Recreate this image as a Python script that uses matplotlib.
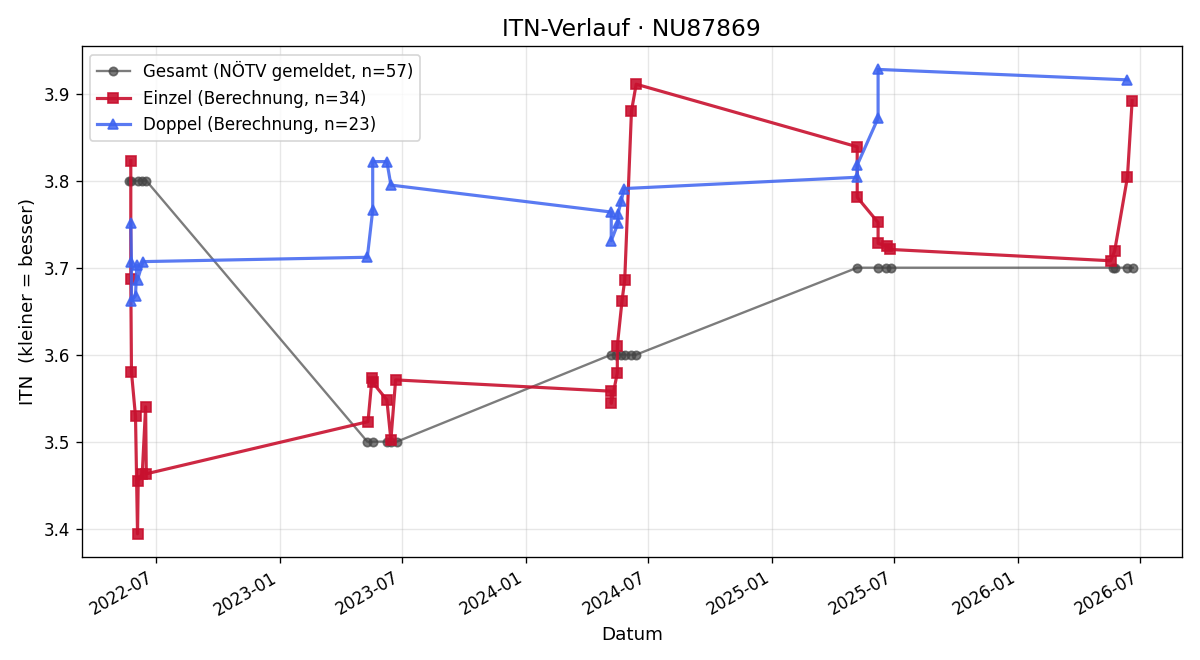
import matplotlib
matplotlib.use("Agg")
import matplotlib.pyplot as plt
import matplotlib.dates as mdates
import pandas as pd

einzel_dates = [
    "2022-05-25", "2022-05-25", "2022-05-26", "2022-06-01", "2022-06-04",
    "2022-06-05", "2022-06-11", "2022-06-16", "2022-06-17",
    "2023-05-12", "2023-05-18", "2023-05-19", "2023-06-09", "2023-06-15", "2023-06-22",
    "2024-05-07", "2024-05-07", "2024-05-16", "2024-05-16", "2024-05-23",
    "2024-05-27", "2024-06-06", "2024-06-13",
    "2025-05-07", "2025-05-07", "2025-06-07", "2025-06-07", "2025-06-20", "2025-06-25",
    "2026-05-18", "2026-05-24", "2026-06-12", "2026-06-19",
]
einzel_itn = [
    3.823, 3.687, 3.580, 3.529, 3.394,
    3.455, 3.463, 3.540, 3.463,
    3.523, 3.573, 3.568, 3.548, 3.502, 3.571,
    3.558, 3.544, 3.579, 3.610, 3.662,
    3.686, 3.880, 3.911,
    3.839, 3.781, 3.752, 3.728, 3.725, 3.721,
    3.708, 3.719, 3.804, 3.892,
]

doppel_dates = [
    "2022-05-25", "2022-05-26", "2022-05-26", "2022-06-01", "2022-06-03",
    "2022-06-04", "2022-06-12",
    "2023-05-11", "2023-05-19", "2023-05-19", "2023-06-09", "2023-06-15",
    "2024-05-07", "2024-05-07", "2024-05-17", "2024-05-17", "2024-05-22", "2024-05-26",
    "2025-05-07", "2025-05-07", "2025-06-07", "2025-06-07",
    "2026-06-12",
]
doppel_itn = [
    3.751, 3.706, 3.662, 3.668, 3.703,
    3.686, 3.707,
    3.712, 3.766, 3.822, 3.822, 3.795,
    3.764, 3.731, 3.751, 3.762, 3.777, 3.791,
    3.804, 3.818, 3.872, 3.928,
    3.916,
]

gesamt_dates = [
    "2022-05-23", "2022-05-26", "2022-06-04", "2022-06-10", "2022-06-17",
    "2023-05-11", "2023-05-19", "2023-06-09", "2023-06-15", "2023-06-24",
    "2024-05-07", "2024-05-14", "2024-05-22", "2024-05-28", "2024-06-06", "2024-06-13",
    "2025-05-07", "2025-06-07", "2025-06-19", "2025-06-26",
    "2026-05-21", "2026-05-24", "2026-06-12", "2026-06-20",
]
gesamt_itn = [
    3.8, 3.8, 3.8, 3.8, 3.8,
    3.5, 3.5, 3.5, 3.5, 3.5,
    3.6, 3.6, 3.6, 3.6, 3.6, 3.6,
    3.7, 3.7, 3.7, 3.7,
    3.7, 3.7, 3.7, 3.7,
]

fig, ax = plt.subplots(figsize=(10, 5.5), dpi=120)

ax.plot(pd.to_datetime(gesamt_dates), gesamt_itn, color="#444444", alpha=0.7,
        marker="o", markersize=5, linewidth=1.4,
        label="Gesamt (NÖTV gemeldet, n=57)")
ax.plot(pd.to_datetime(einzel_dates), einzel_itn, color="#C8102E", alpha=0.9,
        marker="s", markersize=6, linewidth=1.9,
        label="Einzel (Berechnung, n=34)")
ax.plot(pd.to_datetime(doppel_dates), doppel_itn, color="#3D63F0", alpha=0.85,
        marker="^", markersize=6, linewidth=1.9,
        label="Doppel (Berechnung, n=23)")

ax.set_xlim(pd.Timestamp("2022-03-13"), pd.Timestamp("2026-09-01"))
ax.xaxis.set_major_locator(mdates.MonthLocator(bymonth=[1, 7]))
ax.xaxis.set_major_formatter(mdates.DateFormatter("%Y-%m"))
ax.grid(True, alpha=0.3)
ax.set_title("ITN-Verlauf · NU87869", fontsize=14)
ax.set_xlabel("Datum", fontsize=11)
ax.set_ylabel("ITN  (kleiner = besser)", fontsize=11)
ax.legend(loc="upper left", fontsize=10)
fig.autofmt_xdate()
fig.subplots_adjust(left=0.068, right=0.985, top=0.93, bottom=0.156)
fig.savefig("out.png", dpi=120)
